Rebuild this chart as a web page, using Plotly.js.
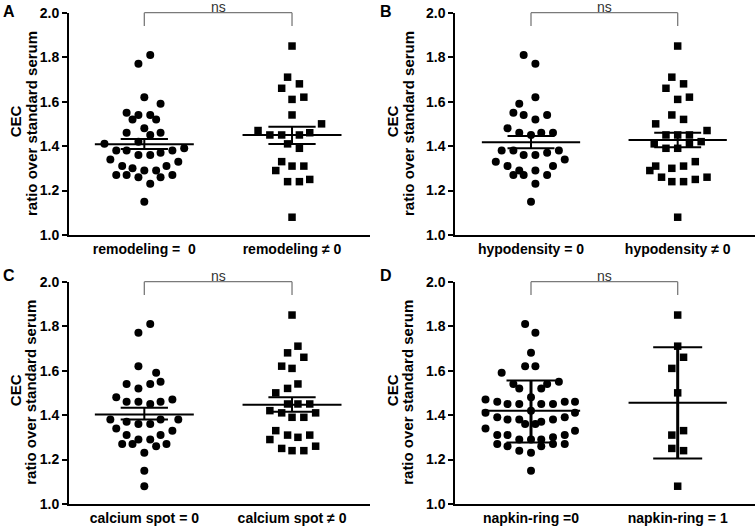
<!DOCTYPE html>
<html><head><meta charset="utf-8">
<script src="https://cdn.plot.ly/plotly-3.0.1.min.js"></script>
<style>html,body{margin:0;padding:0;background:#fff}</style>
</head><body><div id="chart" style="width:755px;height:528px"></div>
<script>
// ---- categories ----
const catA = ['remodeling =\u00a0\u00a00', 'remodeling \u2260 0'];
const catB = ['hypodensity = 0', 'hypodensity \u2260 0'];
const catC = ['calcium spot = 0', 'calcium spot \u2260 0'];
const catD = ['napkin-ring =0', 'napkin-ring = 1'];
const yTickVals = [1.0, 1.2, 1.4, 1.6, 1.8, 2.0];
const yTitleTop = 'CEC';
const yTitleBottom = 'ratio over standard serum';
const sigLabel = 'ns';
const letters = ['A', 'B', 'C', 'D'];

// ---- Panel A ----
const yA0 = [1.81,1.77,1.62,1.59,1.55,1.54,1.54,1.52,1.52,1.48,1.46,1.46,1.45,1.42,1.41,1.38,1.38,1.36,1.36,1.37,1.38,1.39,1.34,1.33,1.31,1.30,1.29,1.29,1.31,1.27,1.27,1.26,1.26,1.27,1.23,1.15];
const jitA0 = [0.04,-0.04,0,0.11,-0.12,-0.04,0.04,-0.08,0.08,0,-0.12,0.11,0.04,-0.04,-0.27,-0.19,-0.12,-0.04,0.04,0.11,0.19,0.27,-0.23,0.23,-0.15,-0.08,0,0.08,0.15,-0.19,-0.12,-0.04,0.11,0.19,0.04,0];
const yA1 = [1.85,1.71,1.68,1.66,1.61,1.62,1.54,1.50,1.47,1.45,1.45,1.45,1.46,1.41,1.39,1.33,1.29,1.31,1.31,1.24,1.24,1.25,1.08];
const jitA1 = [0,-0.03,0.05,-0.07,0,0.08,0,0.2,-0.23,-0.15,-0.07,0.05,0.12,-0.03,0.05,-0.07,-0.11,0,0.08,-0.03,0.05,0.12,0];
const meanA = [1.408, 1.45];
const hiA = [1.432, 1.487];
const loA = [1.387, 1.409];

// ---- Panel B ----
const yB0 = [1.81,1.77,1.62,1.59,1.55,1.54,1.54,1.52,1.48,1.46,1.45,1.46,1.46,1.38,1.38,1.36,1.36,1.37,1.38,1.33,1.34,1.31,1.31,1.27,1.27,1.29,1.29,1.27,1.23,1.15];
const jitB0 = [-0.05,0.03,0.03,-0.08,-0.12,-0.05,0.11,0.03,-0.16,-0.08,0,0.07,0.15,-0.2,-0.12,-0.05,0.03,0.11,0.19,-0.24,0.23,-0.16,0.15,-0.12,-0.05,-0.08,0.03,0.11,0.03,0];
const yB1 = [1.85,1.71,1.68,1.66,1.61,1.62,1.54,1.52,1.50,1.47,1.45,1.45,1.45,1.41,1.39,1.39,1.41,1.42,1.33,1.31,1.29,1.30,1.31,1.26,1.24,1.24,1.25,1.26,1.08];
const jitB1 = [0,-0.04,0.04,-0.08,0,0.08,-0.04,0.04,-0.15,0.2,-0.08,0,0.08,-0.16,-0.08,0,0.08,0.16,0.12,-0.15,-0.19,-0.04,0.04,-0.11,-0.04,0.04,0.12,0.2,0];
const meanB = [1.417, 1.427];
const hiB = [1.445, 1.46];
const loB = [1.39, 1.395];

// ---- Panel C ----
const yC0 = [1.81,1.77,1.62,1.59,1.54,1.54,1.55,1.52,1.48,1.46,1.46,1.45,1.46,1.47,1.38,1.37,1.36,1.36,1.38,1.38,1.34,1.33,1.31,1.31,1.29,1.29,1.27,1.27,1.26,1.27,1.23,1.15,1.08];
const jitC0 = [0.04,-0.04,-0.04,0.08,-0.12,0.04,0.11,-0.04,-0.19,-0.12,-0.04,0.04,0.11,0.19,-0.23,-0.12,-0.04,0.04,0.11,0.23,-0.19,0.19,-0.12,0.11,-0.04,0.04,-0.15,-0.08,0.08,0.15,0,0,0];
const yC1 = [1.85,1.71,1.68,1.66,1.62,1.61,1.54,1.52,1.50,1.45,1.45,1.45,1.42,1.41,1.39,1.39,1.41,1.33,1.29,1.31,1.30,1.31,1.25,1.24,1.24,1.26];
const jitC1 = [0,0.04,-0.03,0.08,-0.07,0,0.04,-0.03,-0.11,-0.03,0.04,0.12,-0.15,-0.07,0,0.08,0.16,-0.11,-0.15,-0.03,0.04,0.12,-0.07,0,0.08,0.16];
const meanC = [1.403, 1.447];
const hiC = [1.433, 1.48];
const loC = [1.38, 1.415];

// ---- Panel D ----
const yD0 = [1.81,1.77,1.68,1.62,1.62,1.59,1.55,1.54,1.52,1.52,1.54,1.48,
  1.47,1.46,1.45,1.45,1.45,1.45,1.46,1.46,
  1.42,1.41,1.41,
  1.39,1.38,1.38,1.37,1.38,1.39,
  1.36,1.36,1.34,1.33,
  1.31,1.31,1.30,1.31,
  1.29,1.29,1.29,
  1.27,1.26,1.26,1.27,1.27,
  1.24,1.23,1.15];
const jitD0 = [-0.04,0.03,0,-0.04,0.03,-0.2,0.19,-0.12,-0.08,0.07,0.11,0,
  -0.31,-0.23,-0.16,-0.08,0.07,0.15,0.23,0.3,
  0,-0.31,0.3,
  -0.23,-0.16,-0.08,0.07,0.15,0.23,
  -0.04,0.03,-0.31,0.3,
  -0.23,-0.16,0.15,0.23,
  -0.08,0,0.07,
  -0.23,-0.16,0.07,0.15,0.23,
  -0.08,0,0];
const yD1 = [1.85,1.71,1.66,1.61,1.50,1.33,1.31,1.25,1.24,1.08];
const jitD1 = [0,0,0.04,-0.04,0,0.04,-0.04,-0.04,0.04,0];
const meanD = [1.42, 1.456];
const hiD = [1.555, 1.705];
const loD = [1.277, 1.205];

// ---- build ----
const FONT = 'Arial, "Liberation Sans", Helvetica, sans-serif';
const W = 755, H = 528;
const xDomL = [69/W, 370/W], xDomR = [455.3/W, 1];
const yDomT = [1 - 235/H, 1 - 12.7/H], yDomB = [1 - 504/H, 1 - 281.7/H];
const xRangeL = [-0.51, 1.528], xRangeR = [-0.516, 1.527];

const panels = [
  {n:'', cats:catA, y0:yA0, j0:jitA0, y1:yA1, j1:jitA1, mean:meanA, hi:hiA, lo:loA, xd:xDomL, yd:yDomT, xr:xRangeL, capW:0.16, vW:2},
  {n:'2', cats:catB, y0:yB0, j0:jitB0, y1:yB1, j1:jitB1, mean:meanB, hi:hiB, lo:loB, xd:xDomR, yd:yDomT, xr:xRangeR, capW:0.16, vW:2},
  {n:'3', cats:catC, y0:yC0, j0:jitC0, y1:yC1, j1:jitC1, mean:meanC, hi:hiC, lo:loC, xd:xDomL, yd:yDomB, xr:xRangeL, capW:0.16, vW:2},
  {n:'4', cats:catD, y0:yD0, j0:jitD0, y1:yD1, j1:jitD1, mean:meanD, hi:hiD, lo:loD, xd:xDomR, yd:yDomB, xr:xRangeR, capW:0.167, vW:3}
];

const traces = [];
const layout = {
  width: W, height: H, autosize: false,
  margin: {l:0, r:0, t:0, b:0, pad:0},
  paper_bgcolor: '#fff', plot_bgcolor: 'rgba(0,0,0,0)',
  showlegend: false,
  font: {family: FONT, color: '#000'},
  shapes: [], annotations: []
};
const meanHalf = 0.335;
const bold = {family: FONT, size: 14, color: '#000', weight: 'bold'};

panels.forEach((p, i) => {
  const xa = 'x' + p.n, ya = 'y' + p.n;
  traces.push({
    type:'scatter', mode:'markers', xaxis:xa, yaxis:ya, cliponaxis:false, hoverinfo:'skip',
    x: p.j0.map(d => 0 + d), y: p.y0,
    marker:{symbol:'circle', size:8, color:'#000', line:{width:0}}
  });
  traces.push({
    type:'scatter', mode:'markers', xaxis:xa, yaxis:ya, cliponaxis:false, hoverinfo:'skip',
    x: p.j1.map(d => 1 + d), y: p.y1,
    marker:{symbol:'square', size:7.5, color:'#000', line:{width:0}}
  });
  // mean lines and caps
  const lx = [], ly = [];
  [0, 1].forEach(c => {
    lx.push(c - meanHalf, c + meanHalf, null); ly.push(p.mean[c], p.mean[c], null);
    lx.push(c - p.capW, c + p.capW, null); ly.push(p.hi[c], p.hi[c], null);
    lx.push(c - p.capW, c + p.capW, null); ly.push(p.lo[c], p.lo[c], null);
  });
  traces.push({type:'scatter', mode:'lines', xaxis:xa, yaxis:ya, hoverinfo:'skip',
    x: lx, y: ly, line:{color:'#000', width:2}});
  const vx = [], vy = [];
  [0, 1].forEach(c => { vx.push(c, c, null); vy.push(p.lo[c], p.hi[c], null); });
  traces.push({type:'scatter', mode:'lines', xaxis:xa, yaxis:ya, hoverinfo:'skip',
    x: vx, y: vy, line:{color:'#000', width:p.vW}});

  layout['xaxis' + p.n] = {
    domain: p.xd, range: p.xr, anchor: ya, fixedrange:true,
    showline:true, linewidth:2, linecolor:'#000', mirror:false,
    ticks:'', tickvals:[0,1], ticktext:p.cats, tickfont:bold,
    showgrid:false, zeroline:false
  };
  layout['yaxis' + p.n] = {
    domain: p.yd, range: [1, 2], anchor: xa, fixedrange:true,
    showline:true, linewidth:2, linecolor:'#000',
    ticks:'outside', ticklen:5, tickwidth:2, tickcolor:'#000',
    tickvals: yTickVals, tickformat:'.1f', tickfont:bold,
    showgrid:false, zeroline:false
  };
  // significance bracket
  const tickLow = 0.94;
  const sh = {type:'line', xref:xa, yref: ya + ' domain', line:{color:'#7a7a7a', width:1.3}};
  layout.shapes.push(Object.assign({}, sh, {x0:0, x1:1, y0:1, y1:1}));
  layout.shapes.push(Object.assign({}, sh, {x0:0, x1:0, y0:tickLow, y1:1}));
  layout.shapes.push(Object.assign({}, sh, {x0:1, x1:1, y0:tickLow, y1:1}));
  layout.annotations.push({xref:xa, yref: ya + ' domain', x:0.5, y:1, xanchor:'center', yanchor:'bottom',
    yshift:-3, borderpad:0, showarrow:false, text:sigLabel, font:{family:FONT, size:14, color:'#333'}});
  // panel letter
  const left = p.xd[0] < 0.5;
  const top = p.yd[0] > 0.5;
  layout.annotations.push({xref:'paper', yref:'paper', x:(left ? 9 : 386)/W, y:1 - (top ? 11 : 275)/H,
    xanchor:'center', yanchor:'middle', showarrow:false, text:letters[i],
    font:{family:FONT, size:16, color:'#000', weight:'bold'}});
  // y titles
  const xOff = left ? 0 : 377;
  const yc = 1 - (top ? 124 : 392.8)/H;
  layout.annotations.push({xref:'paper', yref:'paper', x:(xOff + 15)/W, y:yc + 0.005,
    xanchor:'center', yanchor:'middle', showarrow:false, textangle:-90, text:yTitleTop,
    font:{family:FONT, size:15, color:'#000', weight:'bold'}});
  layout.annotations.push({xref:'paper', yref:'paper', x:(xOff + 31)/W, y:yc,
    xanchor:'center', yanchor:'middle', showarrow:false, textangle:-90, text:yTitleBottom,
    font:{family:FONT, size:15, color:'#000', weight:'bold'}});
});

Plotly.newPlot('chart', traces, layout, {displayModeBar:false, staticPlot:true});
</script>
</body></html>
